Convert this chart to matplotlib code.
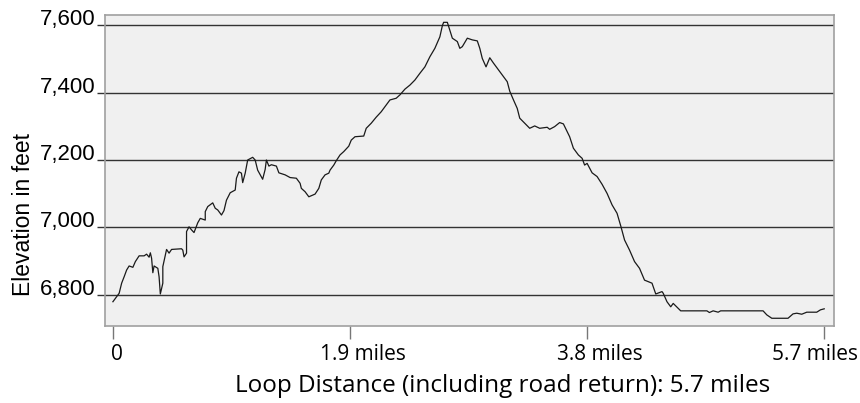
import numpy as np
import matplotlib.pyplot as plt
import matplotlib.transforms as mtransforms
from matplotlib.ticker import FuncFormatter

# distance along the loop (miles) and elevation (feet)
miles = [0.00, 0.03, 0.05, 0.07, 0.09, 0.11, 0.13, 0.16, 0.18, 0.21,
         0.25, 0.27, 0.29, 0.30, 0.31, 0.32, 0.33, 0.36, 0.37, 0.38,
         0.40, 0.40, 0.43, 0.45, 0.47, 0.55, 0.56, 0.57, 0.59, 0.59,
         0.61, 0.63, 0.65, 0.68, 0.70, 0.74, 0.74, 0.76, 0.80, 0.82,
         0.84, 0.87, 0.89, 0.91, 0.94, 0.98, 0.99, 1.01, 1.03, 1.04,
         1.06, 1.08, 1.12, 1.14, 1.16, 1.20, 1.22, 1.23, 1.25, 1.27,
         1.31, 1.33, 1.38, 1.42, 1.47, 1.50, 1.51, 1.54, 1.57, 1.62,
         1.65, 1.67, 1.70, 1.73, 1.74, 1.77, 1.79, 1.82, 1.85, 1.89,
         1.91, 1.94, 2.01, 2.03, 2.07, 2.11, 2.15, 2.18, 2.22, 2.27,
         2.30, 2.34, 2.38, 2.42, 2.46, 2.50, 2.54, 2.58, 2.62, 2.64,
         2.65, 2.68, 2.70, 2.72, 2.76, 2.78, 2.80, 2.84, 2.88, 2.92,
         2.94, 2.96, 2.99, 3.02, 3.05, 3.09, 3.13, 3.16, 3.18, 3.21,
         3.24, 3.26, 3.30, 3.34, 3.38, 3.42, 3.48, 3.50, 3.54, 3.58,
         3.61, 3.64, 3.66, 3.69, 3.73, 3.76, 3.78, 3.80, 3.84, 3.88,
         3.92, 3.96, 4.00, 4.04, 4.07, 4.10, 4.14, 4.18, 4.22, 4.26,
         4.32, 4.35, 4.40, 4.41, 4.44, 4.47, 4.49, 4.52, 4.55, 4.76,
         4.78, 4.81, 4.85, 4.87, 5.21, 5.24, 5.28, 5.41, 5.45, 5.48,
         5.52, 5.56, 5.64, 5.67, 5.70]
feet = [6780, 6795, 6805, 6835, 6854, 6874, 6886, 6882, 6899, 6916,
        6916, 6921, 6912, 6925, 6909, 6866, 6886, 6879, 6854, 6803,
        6835, 6884, 6935, 6924, 6935, 6937, 6933, 6913, 6924, 6988,
        7002, 6993, 6985, 7014, 7027, 7022, 7047, 7062, 7073, 7057,
        7052, 7037, 7050, 7081, 7103, 7111, 7146, 7165, 7161, 7133,
        7161, 7200, 7208, 7200, 7170, 7143, 7172, 7200, 7182, 7186,
        7182, 7162, 7156, 7148, 7146, 7131, 7116, 7106, 7091, 7099,
        7116, 7141, 7156, 7161, 7170, 7185, 7198, 7215, 7225, 7241,
        7259, 7269, 7271, 7294, 7309, 7327, 7343, 7358, 7378, 7383,
        7393, 7410, 7422, 7437, 7457, 7476, 7506, 7531, 7565, 7598,
        7608, 7608, 7585, 7561, 7551, 7531, 7536, 7561, 7556, 7553,
        7531, 7501, 7476, 7503, 7487, 7467, 7447, 7432, 7404, 7378,
        7353, 7324, 7309, 7294, 7301, 7294, 7297, 7291, 7299, 7311,
        7307, 7284, 7269, 7235, 7215, 7205, 7185, 7190, 7162, 7151,
        7128, 7101, 7067, 7042, 7004, 6963, 6933, 6899, 6879, 6844,
        6835, 6803, 6810, 6805, 6780, 6765, 6775, 6764, 6753, 6753,
        6748, 6753, 6749, 6753, 6753, 6741, 6731, 6731, 6744, 6746,
        6743, 6749, 6749, 6756, 6759]

xticks = [0, 1.9, 3.8, 5.7]
xticklabels = ['0', '1.9 miles', '3.8 miles', '5.7 miles']
yticks = [6800, 7000, 7200, 7400, 7600]

fig = plt.figure(figsize=(8.6, 4.03), dpi=100)
ax = fig.add_axes([0.122, 0.191, 0.848, 0.772])
ax.set_facecolor('#f0f0f0')

for y in yticks:
    ax.axhline(y, color='#333333', lw=1.0, zorder=1)
ax.plot(miles, feet, color='#1a1a1a', lw=0.9, zorder=2)

ax.set_xlim(-0.064, 5.78)
ax.set_ylim(6708, 7630)

for s in ax.spines.values():
    s.set_color('#a0a0a0')
    s.set_linewidth(1.2)

ax.set_xticks(xticks)
ax.set_xticklabels(xticklabels, fontsize=15, family='Open Sans')
ax.tick_params(axis='x', direction='out', length=9, width=1, color='#777777', pad=4)
# the labels in the original sit a little off their ticks
shifts = [4, 13, 13, -9]
for lbl, dx in zip(ax.get_xticklabels(), shifts):
    lbl.set_transform(lbl.get_transform() +
                      mtransforms.ScaledTranslation(dx / 100, 0, fig.dpi_scale_trans))

ax.set_yticks(yticks)
ax.yaxis.set_major_formatter(FuncFormatter(lambda v, p: '{:,.0f}'.format(v)))
ax.tick_params(axis='y', direction='out', length=6, width=1, color='#333333', pad=1,
               labelsize=16)
for lbl in ax.get_yticklabels():
    lbl.set_family('Liberation Sans')
    lbl.set_verticalalignment('baseline')

ax.set_ylabel('Elevation in feet', fontsize=16.5, family='Liberation Sans')
ax.yaxis.set_label_coords(-0.096, 0.36)
ax.set_xlabel('Loop Distance (including road return): 5.7 miles', fontsize=17.5,
              family='Open Sans')
ax.xaxis.set_label_coords(0.546, -0.155)

fig.savefig('out.png', dpi=100)
